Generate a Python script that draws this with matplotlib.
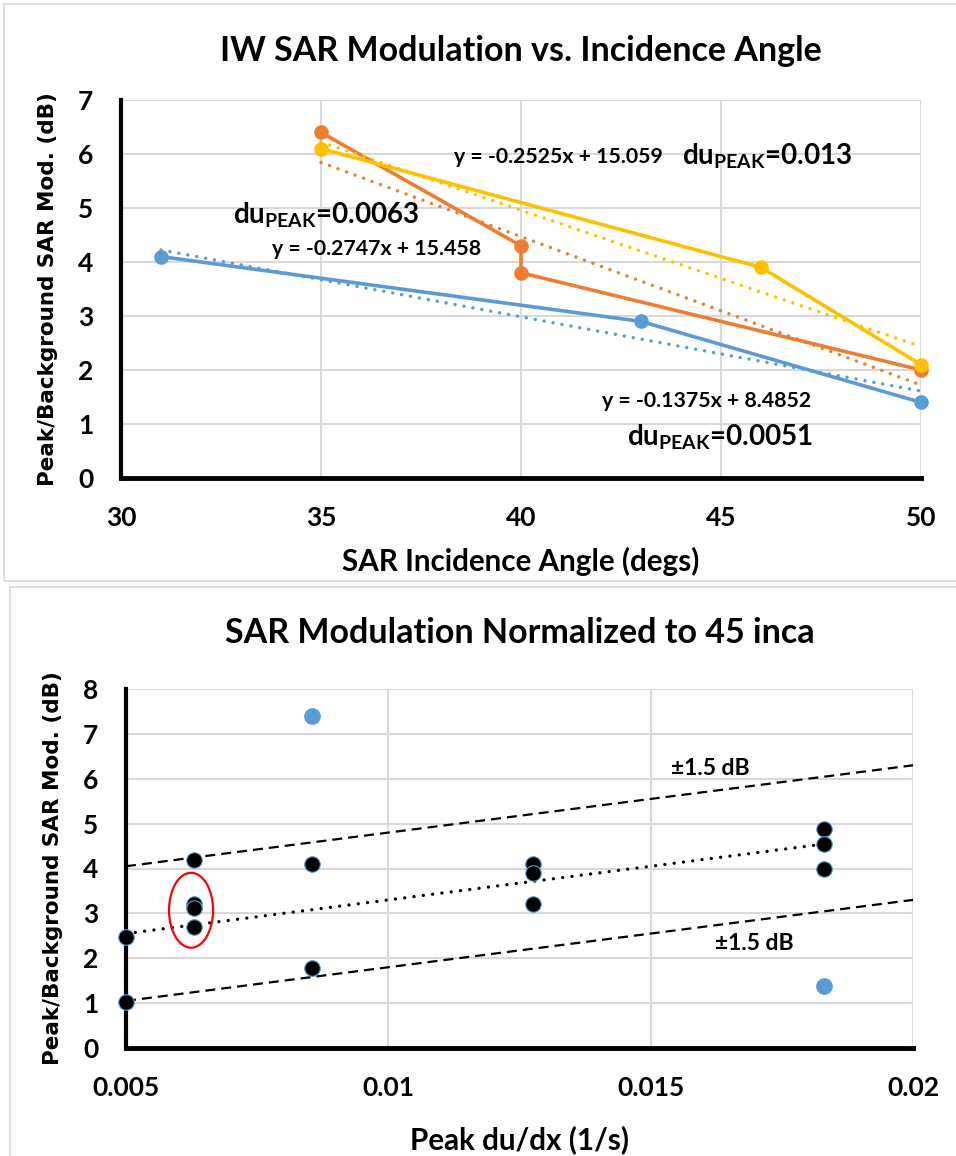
import numpy as np
import matplotlib
matplotlib.use('Agg')
import matplotlib.pyplot as plt
from matplotlib.patches import Ellipse, Rectangle

plt.rcParams['font.family'] = ['Lato', 'DejaVu Sans']
plt.rcParams['font.weight'] = 'bold'
plt.rcParams['axes.titleweight'] = 'bold'
plt.rcParams['axes.labelweight'] = 'bold'
plt.rcParams['mathtext.default'] = 'regular'

# ---- top chart: modulation vs incidence angle
blue_x = [31, 43, 50]
blue_y = [4.1, 2.9, 1.4]
orange_x = [35, 40, 40, 50]
orange_y = [6.4, 4.3, 3.8, 2.0]
yellow_x = [35, 46, 50]
yellow_y = [6.1, 3.9, 2.1]
# linear trend (slope, intercept) for each series
blue_fit = (-0.1375, 8.4852)
orange_fit = (-0.2747, 15.458)
yellow_fit = (-0.2525, 15.059)
du_peak = {'blue': '0.0051', 'orange': '0.0063', 'yellow': '0.013'}

# ---- bottom chart: modulation normalised to 45 deg
black_x = [0.005, 0.005, 0.0063, 0.0063, 0.0063, 0.0063, 0.00855, 0.00855,
           0.01275, 0.01275, 0.01275, 0.0183, 0.0183, 0.0183]
black_y = [2.47, 1.02, 4.18, 3.2, 3.11, 2.69, 4.09, 1.78,
           4.11, 3.89, 3.2, 4.89, 4.55, 3.98]
outlier_x = [0.00855, 0.0183]
outlier_y = [7.4, 1.38]
norm_fit = (150.0, 1.8)
band = 1.5

BLUE = '#5B9BD5'
ORANGE = '#ED7D31'
YELLOW = '#FFC000'
GRID = '#D9D9D9'

W, H = 956, 1156
fig = plt.figure(figsize=(W / 100, H / 100), dpi=100)


def px_axes(l, t, r, b):
    return fig.add_axes([l / W, 1 - b / H, (r - l) / W, (b - t) / H])


# chart area borders
fig.patches.append(Rectangle((4 / W, 1 - 581 / H), 1, 577 / H, transform=fig.transFigure,
                             fill=False, ec=GRID, lw=1.2))
fig.patches.append(Rectangle((10 / W, -0.05), 1, 1 - 587 / H + 0.05, transform=fig.transFigure,
                             fill=False, ec=GRID, lw=1.2))


def style(ax, spine_lw):
    for s in ['top', 'right']:
        ax.spines[s].set_visible(False)
    ax.spines['left'].set_linewidth(spine_lw)
    ax.spines['bottom'].set_linewidth(spine_lw + 0.5)
    ax.grid(True, color=GRID, lw=1.5)
    ax.set_axisbelow(True)
    ax.tick_params(length=0, labelsize=19, pad=20)
    ax.set_ylabel('Peak/Background SAR Mod. (dB)', family='DejaVu Sans',
                  fontsize=15.5, fontweight='bold', labelpad=14)


def bold_ticks(ax):
    for lab in ax.get_xticklabels() + ax.get_yticklabels():
        lab.set_fontweight('bold')


dot = (0, (0.01, 2.6))

ax1 = px_axes(121, 100, 921, 478)
style(ax1, 3)
for xs, ys, c in [(blue_x, blue_y, BLUE), (orange_x, orange_y, ORANGE),
                  (yellow_x, yellow_y, YELLOW)]:
    ax1.plot(xs, ys, '-o', color=c, lw=2.6, ms=9.5, clip_on=False, zorder=3)
for xs, fit, c in [(blue_x, blue_fit, BLUE), (orange_x, orange_fit, ORANGE),
                   (yellow_x, yellow_fit, YELLOW)]:
    tx = np.array([min(xs), max(xs)])
    ax1.plot(tx, fit[0] * tx + fit[1], color=c, lw=2.5, ls=dot,
             dash_capstyle='round', clip_on=False, zorder=4)

ax1.set_xlim(30, 50)
ax1.set_ylim(0, 7)
ax1.set_xticks([30, 35, 40, 45, 50])
ax1.set_yticks(range(8))
bold_ticks(ax1)
ax1.set_title('IW SAR Modulation vs. Incidence Angle', fontsize=24.5, pad=28)
ax1.set_xlabel('SAR Incidence Angle (degs)', fontsize=21.3, labelpad=12)

eq = lambda f: 'y = %gx + %g' % (f[0], f[1])
ax1.text(38.33, 5.83, eq(yellow_fit), fontsize=15.3, va='baseline')
ax1.text(44.03, 5.80, 'du$_{PEAK}$=' + du_peak['yellow'], fontsize=20, va='baseline')
ax1.text(32.8, 4.72, 'du$_{PEAK}$=' + du_peak['orange'], fontsize=20, va='baseline')
ax1.text(33.78, 4.13, eq(orange_fit), fontsize=15.3, va='baseline')
ax1.text(42.03, 1.31, eq(blue_fit), fontsize=15.3, va='baseline')
ax1.text(42.65, 0.61, 'du$_{PEAK}$=' + du_peak['blue'], fontsize=20, va='baseline')

ax2 = px_axes(126, 689, 913, 1048)
style(ax2, 3)
ax2.scatter(black_x, black_y, s=125, c='black', edgecolors=BLUE, linewidths=0.8,
            clip_on=False, zorder=4)
ax2.scatter(outlier_x, outlier_y, s=125, c=BLUE, edgecolors=BLUE, linewidths=0.8,
            clip_on=False, zorder=4)
fx = np.array([min(black_x), max(black_x)])
ax2.plot(fx, norm_fit[0] * fx + norm_fit[1], color='black', lw=2.4, ls=(0, (0.01, 2.8)),
         dash_capstyle='round', zorder=3)
bx = np.array([0.005, 0.02])
for sgn in (1, -1):
    ax2.plot(bx, norm_fit[0] * bx + norm_fit[1] + sgn * band, color='black', lw=1.6,
             ls=(0, (4.5, 2.7)), clip_on=False, zorder=3)
ax2.add_patch(Ellipse((0.00624, 3.07), 0.00084, 1.67, fill=False, ec='red', lw=1.6, zorder=5))
ax2.text(0.01539, 6.09, '±1.5 dB', fontsize=16.5, va='baseline')
ax2.text(0.01623, 2.18, '±1.5 dB', fontsize=16.5, va='baseline')

ax2.set_xlim(0.005, 0.02)
ax2.set_ylim(0, 8)
ax2.set_xticks([0.005, 0.01, 0.015, 0.02])
ax2.set_xticklabels(['0.005', '0.01', '0.015', '0.02'])
ax2.set_yticks(range(9))
bold_ticks(ax2)
ax2.set_title('SAR Modulation Normalized to 45 inca', fontsize=24.5, pad=33)
ax2.set_xlabel('Peak du/dx (1/s)', fontsize=21.3, labelpad=18)

fig.savefig('out.png', dpi=100)
